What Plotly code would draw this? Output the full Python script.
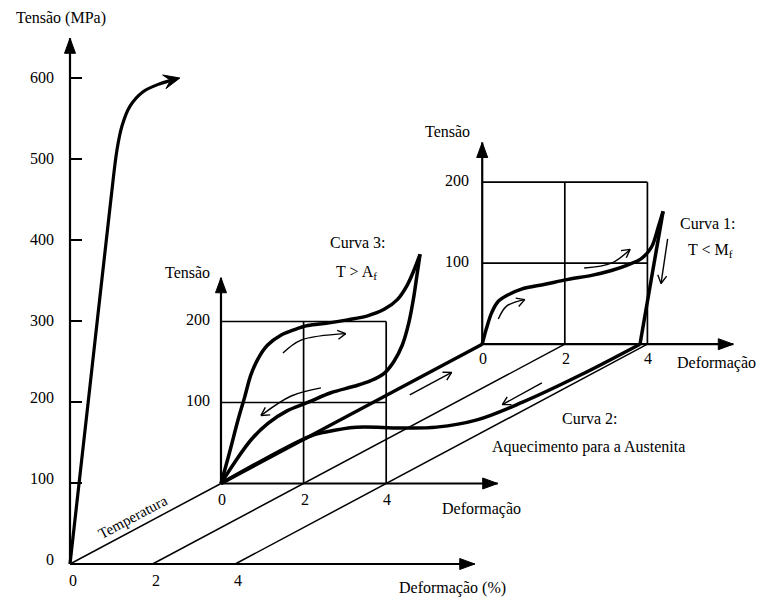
import numpy as np
import plotly.graph_objects as go

FONT = "Liberation Serif, Times New Roman, serif"
FS = 16

# ---------------- data ----------------
# depth ("Temperatura") positions of the three stress-strain planes
DEPTH_MAIN = 0.0
DEPTH_C3 = 1.0
DEPTH_C1 = 2.73
# oblique shift of one depth unit, expressed in main-plane data units
DEPTH_DX = 3.656   # % strain
DEPTH_DY = 99.4    # MPa

# main plane (steel-like curve)
main_strain = [0.0, 0.5, 0.99, 1.14, 1.26, 1.45, 1.77, 2.18, 2.50]
main_stress = [0, 227, 450, 512, 541, 565, 583, 593, 598]
main_tip = (2.66, 600)
main_yticks = [100, 200, 300, 400, 500, 600]
main_ylabels = ["0", "100", "200", "300", "400", "500", "600"]
main_xticks = [0, 2, 4]

# Curva 3: T > Af (superelastic loop)
c3_load_strain = [0.0, 0.205, 0.41, 0.57, 0.73, 0.93, 1.13, 1.45, 1.78, 2.10, 2.58, 3.06, 3.55, 3.95, 4.27, 4.51, 4.67, 4.82]
c3_load_stress = [0, 38, 78, 106, 135, 157, 171, 183, 190, 195, 198, 202, 207, 215, 227, 245, 263, 283]
c3_unload_strain = [4.82, 4.75, 4.67, 4.55, 4.39, 4.19, 3.95, 3.63, 3.22, 2.66, 2.10, 1.61, 1.13, 0.73, 0.33, 0.0]
c3_unload_stress = [283, 259, 231, 199, 171, 151, 136, 127, 120, 112, 100, 90, 74, 54, 26, 0]

# Curva 1: T < Mf
c1_load_strain = [0.0, 0.10, 0.23, 0.39, 0.63, 0.95, 1.52, 2.08, 2.65, 3.13, 3.53, 3.86, 4.10, 4.26, 4.38]
c1_load_stress = [0, 19, 39, 53, 61, 68, 74, 80, 85, 91, 98, 106, 120, 144, 164]
c1_unload_strain = [4.38, 3.82]
c1_unload_stress = [164, 0]

# Curva 2: heating at zero stress (strain vs depth)
c2_strain = [3.82, 3.78, 3.61, 3.31, 2.66, 1.81, 0.72, 0.20, 0.0, 0.0]
c2_depth = [2.73, 2.35, 2.01, 1.79, 1.70, 1.69, 1.70, 1.64, 1.58, 1.0]

panel_xticks = [0, 2, 4]
panel_yticks = [100, 200]

# small direction arrows (strain, stress) in their planes
c3_arrow_up = ([1.50, 1.94, 3.02], [161, 177, 185])
c3_arrow_down = ([2.42, 1.70, 0.97], [118, 108, 84])
c1_arrow_a = ([0.39, 0.59, 1.03], [31, 47, 55])
c1_arrow_b = ([2.47, 3.13, 3.58], [94, 100, 117])
c1_arrow_c = ([4.49, 4.33], [130, 75])
# base-plane arrows (strain, depth)
base_arrow_up = ([0.55, 0.54], [2.10, 2.38])
base_arrow_down = ([3.20, 3.23], [2.25, 1.98])

# axis extents (strain, stress) of each plane
main_axis_end = (9.8, 649)
c3_axis_end = (6.7, 254)
c1_axis_end = (6.08, 249)

KX, KY = 41.3, 0.81   # px per % strain, px per MPa


def proj(s, sig, t):
    s = np.asarray(s, dtype=float)
    sig = np.asarray(sig, dtype=float)
    t = np.asarray(t, dtype=float)
    shape = np.broadcast(s, sig, t).shape
    x = np.broadcast_to(s + t * DEPTH_DX, shape)
    y = np.broadcast_to(sig + t * DEPTH_DY, shape)
    return x, y


def pt(s, sig, t):
    x, y = proj(s, sig, t)
    return float(x), float(y)


fig = go.Figure()


def add_xy(x, y, width, shape="linear", fill=False):
    fig.add_trace(go.Scatter(x=np.atleast_1d(x), y=np.atleast_1d(y), mode="lines",
                             line=dict(color="black", width=width, shape=shape),
                             fill="toself" if fill else None,
                             fillcolor="black" if fill else None,
                             hoverinfo="skip"))


def line(s, sig, t, width, shape="linear"):
    x, y = proj(s, sig, t)
    add_xy(x, y, width, shape)


def head(p_from, p_tip, length, half, style, width=1.4):
    """arrowhead at p_tip, pointing along p_from -> p_tip (sizes in px)"""
    ux = (p_tip[0] - p_from[0]) * KX
    uy = (p_tip[1] - p_from[1]) * KY
    n = np.hypot(ux, uy)
    ux, uy = ux / n, uy / n
    px, py = -uy, ux
    bx, by = -ux * length, -uy * length
    left = (p_tip[0] + (bx + px * half) / KX, p_tip[1] + (by + py * half) / KY)
    right = (p_tip[0] + (bx - px * half) / KX, p_tip[1] + (by - py * half) / KY)
    if style == "filled":
        add_xy([p_tip[0], left[0], right[0], p_tip[0]],
               [p_tip[1], left[1], right[1], p_tip[1]], 1, fill=True)
    elif style == "barbed":
        notch = (p_tip[0] + bx * 0.6 / KX, p_tip[1] + by * 0.6 / KY)
        add_xy([p_tip[0], left[0], notch[0], right[0], p_tip[0]],
               [p_tip[1], left[1], notch[1], right[1], p_tip[1]], 1, fill=True)
    else:
        add_xy([left[0], p_tip[0], right[0]], [left[1], p_tip[1], right[1]], width)


def axis(t, end):
    o = pt(0, 0, t)
    for tip in (pt(0, end[1], t), pt(end[0], 0, t)):
        add_xy([o[0], tip[0]], [o[1], tip[1]], 2.2)
        head(o, tip, 15, 5.5, "filled")


# depth lines (thin) and thick zero-strain path
line([0, 0], [0, 0], [DEPTH_MAIN, DEPTH_C3], 1.5)
for s in panel_xticks[1:]:
    line([s, s], [0, 0], [DEPTH_MAIN, DEPTH_C1], 1.5)
line([0, 0], [0, 0], [DEPTH_C3, DEPTH_C1], 3.5)

# grids in panels
for t in (DEPTH_C3, DEPTH_C1):
    for v in panel_yticks:
        line([0, 4], [v, v], [t, t], 1.7)
    for s in panel_xticks[1:]:
        line([s, s], [0, 200], [t, t], 1.7)

# main y ticks
for v in main_yticks:
    line([0, 0.29], [v, v], [0, 0], 2)

# axes with arrowheads
axis(DEPTH_MAIN, main_axis_end)
axis(DEPTH_C3, c3_axis_end)
axis(DEPTH_C1, c1_axis_end)

# curves
line(main_strain + [main_tip[0] - 0.1], main_stress + [main_tip[1] - 0.5], DEPTH_MAIN, 3.2, "spline")
head(pt(main_strain[-1], main_stress[-1], 0), pt(*main_tip, 0), 16, 7, "barbed")

line(c3_load_strain, c3_load_stress, DEPTH_C3, 3.5, "spline")
line(c3_unload_strain, c3_unload_stress, DEPTH_C3, 3.5, "spline")
line(c1_load_strain, c1_load_stress, DEPTH_C1, 3.5, "spline")
line(c1_unload_strain, c1_unload_stress, DEPTH_C1, 3.5)
line(c2_strain, [0] * len(c2_strain), c2_depth, 3.5, "spline")


def thin_arrow(s, sig, t):
    x, y = proj(s, sig, t)
    add_xy(x, y, 1.4, "spline")
    f = 0.7
    p0 = (x[-2] + f * (x[-1] - x[-2]), y[-2] + f * (y[-1] - y[-2]))
    head(p0, (x[-1], y[-1]), 8, 4.5, "open", 1.4)


thin_arrow(*c3_arrow_up, DEPTH_C3)
thin_arrow(*c3_arrow_down, DEPTH_C3)
thin_arrow(*c1_arrow_a, DEPTH_C1)
thin_arrow(*c1_arrow_b, DEPTH_C1)
thin_arrow(*c1_arrow_c, DEPTH_C1)
for (ss, tt) in (base_arrow_up, base_arrow_down):
    thin_arrow(ss, [0, 0], tt)


def label(x, y, text, xanchor="center", yanchor="middle", xshift=0, yshift=0,
          angle=0, size=FS):
    fig.add_annotation(x=x, y=y, xref="x", yref="y", text=text, showarrow=False,
                       xanchor=xanchor, yanchor=yanchor, xshift=xshift, yshift=yshift,
                       textangle=angle, font=dict(family=FONT, size=size, color="black"))


# ---------------- text ----------------
# main plane
for v, txt in zip([0] + main_yticks, main_ylabels):
    x, y = pt(0, v, 0)
    label(x, y, txt, xanchor="right", xshift=-14, yshift=5 if v < 300 else 1)
for v in main_xticks:
    x, y = pt(v, 0, 0)
    label(x, y, str(v), xshift=3, yshift=-16)
label(*pt(-0.22, 674, 0), "Tensão (MPa)")
label(*pt(9.25, -29.6, 0), "Deformação (%)")
label(*pt(-0.61, 0, 0.584), "Temperatura", angle=-28, size=15)

# panel Curva 3
t = DEPTH_C3
for v in panel_yticks:
    x, y = pt(0, v, t)
    label(x, y, str(v), xanchor="right", xshift=-9, yshift=2)
for v in panel_xticks:
    x, y = pt(v, 0, t)
    label(x, y, str(v), xshift=1, yshift=-16)
label(*pt(-0.8, 261, t), "Tensão")
label(*pt(6.3, -31.5, t), "Deformação")
label(*pt(3.32, 297, t), "Curva 3:")
label(*pt(3.29, 260, t), "T > A<sub>f</sub>")

# panel Curva 1
t = DEPTH_C1
for v in panel_yticks:
    x, y = pt(0, v, t)
    label(x, y, str(v), xanchor="right", xshift=-11, yshift=2)
for v in panel_xticks:
    x, y = pt(v, 0, t)
    label(x, y, str(v), xshift=1, yshift=-14)
label(*pt(-0.85, 263, t), "Tensão")
label(*pt(5.67, -23.5, t), "Deformação")
label(*pt(5.47, 149, t), "Curva 1:")
label(*pt(5.52, 116, t), "T < M<sub>f</sub>")

# Curva 2 labels (zero-stress plane)
label(*pt(5.97, 0, 1.81), "Curva 2:")
label(*pt(7.25, 0, 1.453), "Aquecimento para a Austenita")

fig.update_layout(
    width=757, height=599,
    margin=dict(l=0, r=0, t=0, b=0),
    paper_bgcolor="white", plot_bgcolor="white",
    showlegend=False,
    xaxis=dict(range=[-70 / KX, 687 / KX], visible=False, fixedrange=True),
    yaxis=dict(range=[-35 / KY, 564 / KY], visible=False, fixedrange=True),
)

fig.write_html("out.html", post_script="document.body.style.margin='0px';",
               config={"displayModeBar": False})
